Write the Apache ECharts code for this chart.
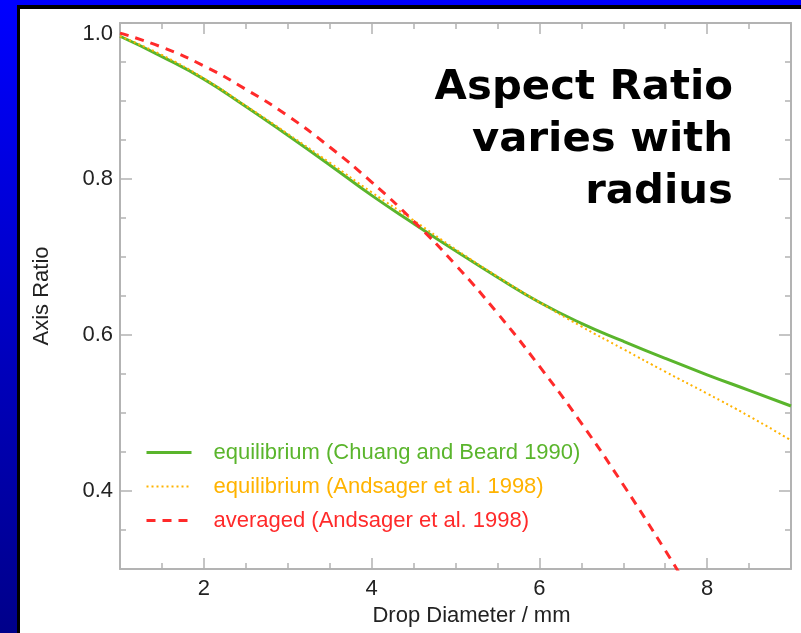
<!DOCTYPE html>
<html><head><meta charset="utf-8">
<script src="https://cdn.jsdelivr.net/npm/echarts@6/dist/echarts.min.js"></script>
<style>html,body{margin:0;padding:0;background:#fff}#c{width:801px;height:633px}</style>
</head><body><div id="c"></div>
<script>
// ---- data ----
const diameters = [1, 1.5, 2, 2.5, 3, 3.5, 4, 4.5, 5, 5.5, 6, 6.5, 7, 7.5, 8, 8.5, 9];
const chuangBeard1990 = [0.983, 0.957, 0.928, 0.893, 0.856, 0.818, 0.779, 0.743, 0.708, 0.674, 0.642, 0.615, 0.592, 0.570, 0.549, 0.529, 0.509];
const andsagerEquil1998 = [0.983, 0.959, 0.929, 0.894, 0.858, 0.821, 0.783, 0.747, 0.710, 0.675, 0.642, 0.611, 0.582, 0.553, 0.525, 0.496, 0.465];
const avgDiameters = [1, 1.5, 2, 2.5, 3, 3.5, 4, 4.5, 5, 5.5, 6, 6.5, 7, 7.5, 7.7];
const andsagerAvg1998 = [0.987, 0.969, 0.945, 0.915, 0.881, 0.841, 0.796, 0.746, 0.690, 0.628, 0.560, 0.487, 0.408, 0.324, 0.289];
const seriesNames = ['equilibrium (Chuang and Beard 1990)', 'equilibrium (Andsager et al. 1998)', 'averaged (Andsager et al. 1998)'];
const xMajorTicks = [2, 4, 6, 8];
const xMinorTicks = [1.5, 2.5, 3, 3.5, 4.5, 5, 5.5, 6.5, 7, 7.5, 8.5];
const yMajorTicks = [0.4, 0.6, 0.8, 1.0];
const yMinorTicks = [0.35, 0.45, 0.5, 0.55, 0.65, 0.7, 0.75, 0.85, 0.9, 0.95];
const headline = 'Aspect Ratio\nvaries with\nradius';

const AX = '#b3b3b3', TXT = '#222', FONT = '"Liberation Sans", Arial, sans-serif';
const colors = ['#5ab52c', '#ffb300', '#ff2a2a'];
const widths = [3, 2, 3];
const dashes = ['solid', [2, 3], [9, 7]];

function xAx(pos, ticks, len, showLine, labels, extra) {
  return Object.assign({
    type: 'value', position: pos, min: 1, max: 9,
    axisLine: { show: showLine, onZero: false, lineStyle: { color: AX, width: 2 } },
    axisTick: { show: true, inside: true, length: len, customValues: ticks, lineStyle: { color: AX, width: 1.5 } },
    axisLabel: labels ? { show: true, customValues: labels, color: TXT, fontSize: 22, fontFamily: FONT, margin: 9 } : { show: false },
    splitLine: { show: false }
  }, extra || {});
}
function yAx(pos, ticks, len, showLine, labels, extra) {
  return Object.assign({
    type: 'value', position: pos, min: 0.3, max: 1.0,
    axisLine: { show: showLine, onZero: false, lineStyle: { color: AX, width: 2 } },
    axisTick: { show: true, inside: true, length: len, customValues: ticks, lineStyle: { color: AX, width: 1.5 } },
    axisLabel: labels ? { show: true, customValues: labels, color: TXT, fontSize: 22, fontFamily: FONT, margin: 7,
      formatter: v => v.toFixed(1), verticalAlignMaxLabel: 'top' } : { show: false },
    splitLine: { show: false }
  }, extra || {});
}

const chart = echarts.init(document.getElementById('c'), null, { renderer: 'canvas' });
chart.setOption({
  animation: false,
  backgroundColor: new echarts.graphic.LinearGradient(0, 0, 0, 1, [
    { offset: 0, color: '#0000ff' }, { offset: 1, color: '#00008a' }]),
  grid: { left: 120, top: 23, right: 10, bottom: 64, containLabel: false },
  graphic: [
    { type: 'rect', z: -10, silent: true, shape: { x: 17, y: 5, width: 784, height: 628 }, style: { fill: '#000' } },
    { type: 'rect', z: -9, silent: true, shape: { x: 20, y: 9, width: 781, height: 624 }, style: { fill: '#fff' } },
    { type: 'text', z: 100, silent: true, x: 733, y: 62, scaleX: 1.02, originX: 0,
      style: { text: headline, fill: '#000', font: 'bold 41px "DejaVu Sans", Verdana, sans-serif', align: 'right', lineHeight: 52 } }
  ],
  legend: {
    orient: 'vertical', left: 140, top: 436, itemWidth: 45, itemHeight: 14, itemGap: 11,
    itemStyle: { opacity: 0 },
    data: seriesNames.map((n, i) => ({ name: n, textStyle: { color: colors[i] },
      lineStyle: { width: widths[i], type: dashes[i], color: colors[i] } })),
    textStyle: { fontSize: 22, fontFamily: FONT, lineHeight: 23, padding: [0, 0, 0, 17] }
  },
  xAxis: [
    xAx('bottom', xMajorTicks, 11, true, xMajorTicks, {
      name: 'Drop Diameter / mm', nameLocation: 'middle', nameGap: 32,
      nameTextStyle: { color: TXT, fontSize: 22, fontFamily: FONT, padding: [0, 0, 0, 32] } }),
    xAx('bottom', xMinorTicks, 6, false, null),
    xAx('top', xMajorTicks, 11, true, null),
    xAx('top', xMinorTicks, 6, false, null)
  ],
  yAxis: [
    yAx('left', yMajorTicks, 12, true, yMajorTicks, {
      name: 'Axis Ratio', nameLocation: 'middle', nameGap: 67,
      nameTextStyle: { color: TXT, fontSize: 22, fontFamily: FONT } }),
    yAx('left', yMinorTicks, 6, false, null),
    yAx('right', yMajorTicks, 12, true, null),
    yAx('right', yMinorTicks, 6, false, null)
  ],
  series: [
    { name: seriesNames[0], type: 'line', symbol: 'none', smooth: true, clip: true, z: 3,
      data: diameters.map((d, i) => [d, chuangBeard1990[i]]),
      lineStyle: { color: colors[0], width: widths[0], type: dashes[0] }, itemStyle: { color: colors[0] } },
    { name: seriesNames[1], type: 'line', symbol: 'none', smooth: true, clip: true, z: 4,
      data: diameters.map((d, i) => [d, andsagerEquil1998[i]]),
      lineStyle: { color: colors[1], width: widths[1], type: dashes[1] }, itemStyle: { color: colors[1] } },
    { name: seriesNames[2], type: 'line', symbol: 'none', smooth: true, clip: true, z: 5,
      data: avgDiameters.map((d, i) => [d, andsagerAvg1998[i]]),
      lineStyle: { color: colors[2], width: widths[2], type: dashes[2] }, itemStyle: { color: colors[2] } }
  ]
});
</script></body></html>
